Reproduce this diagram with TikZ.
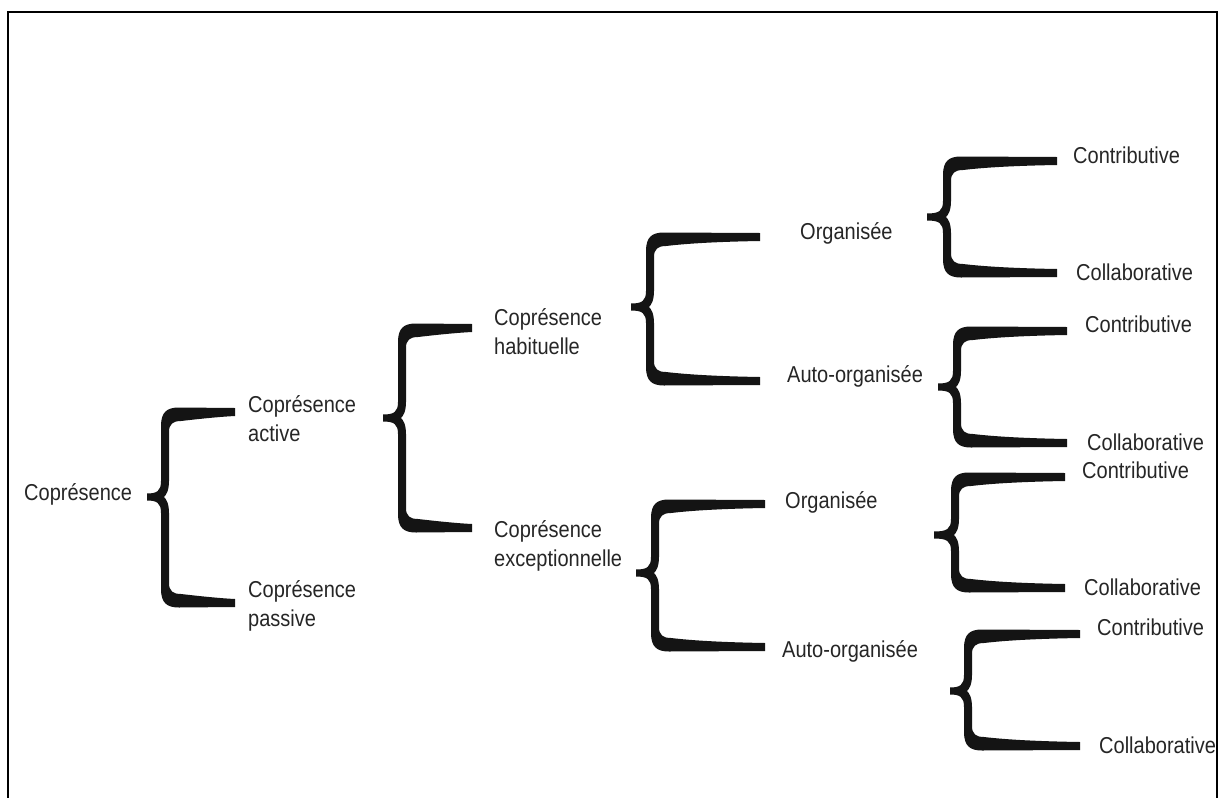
\documentclass[tikz,border=0pt]{standalone}
\usepackage{fontspec}
\setmainfont{Liberation Sans}[FakeStretch=0.87]
\definecolor{ink}{HTML}{141414}
\definecolor{txt}{HTML}{262626}
% #1 tip x, #2 tip y, #3 stem x, #4 top arm y, #5 bottom arm y, #6 arm end x
\newcommand\Bkt[6]{%
  \fill[ink] (#6,{#4-4}) -- ({#3+14},{#4-4.5})
    .. controls ({#3+2},{#4-4.5}) and ({#3-4},{#4}) .. ({#3-4},{#4+14})
    -- ({#3-4},{#2-16})
    .. controls ({#3-4},{#2-6}) and ({#3-8},{#2-3.5}) .. (#1,{#2-3.5})
    -- (#1,{#2+3.5})
    .. controls ({#3-8},{#2+3.5}) and ({#3-4},{#2+6}) .. ({#3-4},{#2+16})
    -- ({#3-4},{#5-14})
    .. controls ({#3-4},{#5}) and ({#3+2},{#5+4.5}) .. ({#3+14},{#5+4.5})
    -- (#6,{#5+4}) -- (#6,{#5-4})
    .. controls ({#3+50},{#5-5}) and ({#3+25},{#5-8}) .. ({#3+16},{#5-9})
    .. controls ({#3+8},{#5-9}) and ({#3+4},{#5-12}) .. ({#3+4},{#5-20})
    -- ({#3+4},{#2+16})
    .. controls ({#3+4},{#2+6}) and ({#3+1},{#2+2}) .. ({#3-1},#2)
    .. controls ({#3+1},{#2-2}) and ({#3+4},{#2-6}) .. ({#3+4},{#2-16})
    -- ({#3+4},{#4+20})
    .. controls ({#3+4},{#4+12}) and ({#3+8},{#4+9}) .. ({#3+16},{#4+9})
    .. controls ({#3+25},{#4+8}) and ({#3+50},{#4+5}) .. (#6,{#4+4}) -- cycle;}
\tikzset{
  lbl/.style={anchor=base west, inner sep=0pt, text=txt,
    font=\fontsize{23}{29}\selectfont},
  frame/.style={draw=black, line width=2pt}
}
\newcommand\two[2]{\begin{tabular}[t]{@{}l@{}}#1\\#2\end{tabular}}
\begin{document}
\begin{tikzpicture}[x=1pt,y=-1pt]
\useasboundingbox (0,0) rectangle (1224,798);
\fill[white] (0,0) rectangle (1224,798);
\draw[frame] (8,798) -- (8,12) -- (1217,12) -- (1217,798);

% labels
\node[lbl] (n0) at (24,500) {Coprésence};
\node[lbl] (n1) at (248,412) {\two{Coprésence}{active}};
\node[lbl] (n2) at (248,597) {\two{Coprésence}{passive}};
\node[lbl] (n11) at (494,325) {\two{Coprésence}{habituelle}};
\node[lbl] (n12) at (494,537) {\two{Coprésence}{exceptionnelle}};
\node[lbl] (n111) at (800,239) {Organisée};
\node[lbl] (n112) at (787,382) {Auto-organisée};
\node[lbl] (n121) at (785,508) {Organisée};
\node[lbl] (n122) at (782,657) {Auto-organisée};
\node[lbl] (n1111) at (1073,163) {Contributive};
\node[lbl] (n1112) at (1076,280) {Collaborative};
\node[lbl] (n1121) at (1085,332) {Contributive};
\node[lbl] (n1122) at (1087,450) {Collaborative};
\node[lbl] (n1211) at (1082,478) {Contributive};
\node[lbl] (n1212) at (1084,595) {Collaborative};
\node[lbl] (n1221) at (1097,635) {Contributive};
\node[lbl] (n1222) at (1099,753) {Collaborative};

% braces
\Bkt{147}{497}{165}{412}{603}{235}
\Bkt{383}{418}{402}{328}{528}{472}
\Bkt{631}{307}{650}{237}{381}{760}
\Bkt{636}{573}{655}{504}{647}{765}
\Bkt{927}{217}{947}{161}{273}{1057}
\Bkt{938}{387}{957}{331}{443}{1067}
\Bkt{934}{535}{955}{477}{588}{1065}
\Bkt{950}{691}{968}{634}{746}{1080}
\end{tikzpicture}
\end{document}
